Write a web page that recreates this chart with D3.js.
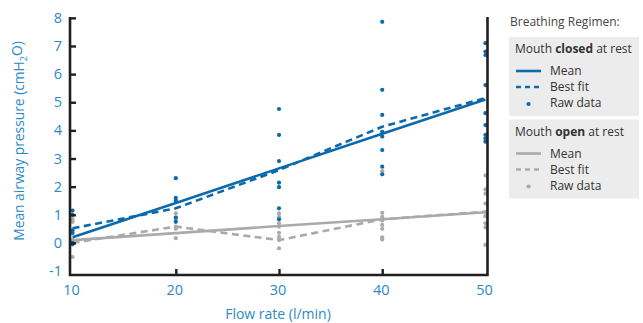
<!DOCTYPE html>
<html><head><meta charset="utf-8">
<script src="https://cdn.jsdelivr.net/npm/d3@7"></script>
<style>
body{margin:0;background:#fff;}
text{font-family:"Open Sans","Noto Sans",sans-serif;}
</style></head><body>
<svg id="c" width="643" height="323"></svg>
<script>
const flowRates = [10, 20, 30, 40, 50];
const yTicks = [-1, 0, 1, 2, 3, 4, 5, 6, 7, 8];
// Mouth closed at rest
const closedMean = [0.2, 1.42, 2.65, 3.88, 5.1];
const closedFit = [0.52, 1.23, 2.59, 4.13, 5.15];
const closedRaw = [
  [10, 1.15], [10, 1.0], [10, 0.45], [10, 0.35], [10, 0.0], [10, -0.05],
  [20, 2.3], [20, 1.6], [20, 1.5], [20, 0.9], [20, 0.75],
  [30, 4.76], [30, 3.84], [30, 2.91], [30, 2.14], [30, 1.98], [30, 1.23], [30, 0.84],
  [40, 7.86], [40, 5.44], [40, 4.55], [40, 3.95], [40, 3.78], [40, 3.3], [40, 2.71], [40, 2.44],
  [50, 7.1], [50, 6.8], [50, 6.68], [50, 5.61], [50, 4.61], [50, 4.19], [50, 3.84], [50, 3.72], [50, 3.6]
];
// Mouth open at rest
const openMean = [0.1, 0.35, 0.6, 0.84, 1.09];
const openFit = [0.0, 0.58, 0.1, 0.84, 1.11];
const openRaw = [
  [10, 0.85], [10, 0.75], [10, 0.1], [10, 0.05], [10, 0.0], [10, -0.5],
  [20, 1.05], [20, 0.9], [20, 0.8], [20, 0.58], [20, 0.5], [20, 0.17],
  [30, 1.05], [30, 0.93], [30, 0.7], [30, 0.58], [30, 0.36], [30, 0.22], [30, 0.1], [30, -0.19],
  [40, 2.55], [40, 1.07], [40, 0.93], [40, 0.8], [40, 0.64], [40, 0.5], [40, 0.2], [40, 0.12],
  [50, 2.4], [50, 1.9], [50, 1.75], [50, 1.4], [50, 1.1], [50, 0.95], [50, 0.7], [50, 0.55], [50, -0.07]
];

const BLUE = "#0b6aab", GRAY = "#aaaaaa", LBLUE = "#2b8ac6", AX = "#231f20";
const svg = d3.select("#c");
const x = d3.scaleLinear().domain([9.75, 50.2]).range([70, 487.5]);
const y = d3.scaleLinear().domain([-1.14, 8.03]).range([275, 17]);

function dots(data, color) {
  svg.append("g").selectAll("circle").data(data).join("circle")
    .attr("cx", d => x(d[0])).attr("cy", d => y(d[1])).attr("r", 2.1).attr("fill", color);
}
dots(openRaw, GRAY);
const line = d3.line().x((d, i) => x(flowRates[i])).y(d => y(d));
function path(vals, color, dashed) {
  svg.append("path").datum(vals).attr("d", line).attr("fill", "none")
    .attr("stroke", color).attr("stroke-width", 2.6)
    .attr("stroke-dasharray", dashed ? "7,4.5" : null);
}
path(openMean, GRAY, false);
path(openFit, GRAY, true);
dots(closedRaw, BLUE);
path(closedMean, BLUE, false);
path(closedFit, BLUE, true);

// axes (inward ticks; end ticks hidden at corners)
const yAxis = svg.append("g").attr("transform", "translate(70,0)")
  .call(d3.axisRight(y).tickValues(yTicks.filter(v => v > yTicks[0])).tickSize(6).tickFormat(""));
const xAxis = svg.append("g").attr("transform", "translate(0,275)")
  .call(d3.axisTop(x).tickValues(flowRates.slice(1, -1)).tickSize(6).tickFormat(""));
[yAxis, xAxis].forEach(g => {
  g.select(".domain").remove();
  g.selectAll("line").attr("stroke", AX).attr("stroke-width", 2.4);
});
svg.append("path").attr("d", `M70,${y.range()[1]}V275H487.5V${y.range()[1]}`)
  .attr("fill", "none").attr("stroke", AX).attr("stroke-width", 2.6);

// tick labels
svg.append("g").selectAll("text").data(yTicks).join("text")
  .attr("x", 62).attr("y", d => y(d)).attr("dy", "0.35em").attr("text-anchor", "end")
  .attr("fill", LBLUE).attr("font-size", 14.5).text(d => d);
svg.append("g").selectAll("text").data(flowRates).join("text")
  .attr("x", d => x(d) - 1).attr("y", 290).attr("dy", "0.35em").attr("text-anchor", "middle")
  .attr("fill", LBLUE).attr("font-size", 14.5).text(d => d);

// axis titles
svg.append("text").attr("x", 278).attr("y", 314).attr("dy", "0.35em").attr("text-anchor", "middle")
  .attr("fill", LBLUE).attr("font-size", 14).text("Flow rate (l/min)");
const yt = svg.append("text").attr("transform", "translate(19,141) rotate(-90)")
  .attr("dy", "0.35em").attr("text-anchor", "middle").attr("fill", LBLUE).attr("font-size", 13.8);
yt.append("tspan").text("Mean airway pressure (cmH");
yt.append("tspan").attr("font-size", 9).attr("dy", "0.3em").text("2");
yt.append("tspan").attr("dy", "-0.3em").text("O)");

// legend
svg.append("text").attr("x", 510).attr("y", 22).attr("dy", "0.35em").attr("fill", "#444")
  .attr("font-size", 12).text("Breathing Regimen:");
const groups = [
  {label: "closed", color: BLUE, top: 37, h: 79},
  {label: "open", color: GRAY, top: 119.5, h: 79}
];
groups.forEach(g => {
  const lg = svg.append("g").attr("transform", `translate(509,${g.top})`);
  lg.append("rect").attr("width", 130).attr("height", g.h).attr("fill", "#ececec");
  const t = lg.append("text").attr("x", 6).attr("y", 12).attr("dy", "0.35em")
    .attr("fill", "#333").attr("font-size", 12);
  t.append("tspan").text("Mouth ");
  t.append("tspan").attr("font-weight", "bold").text(g.label);
  t.append("tspan").text(" at rest");
  const rows = [{n: "Mean", dy: 34}, {n: "Best fit", dy: 50}, {n: "Raw data", dy: 66}];
  rows.forEach((r, i) => {
    if (i < 2) lg.append("line").attr("x1", 7).attr("x2", 32).attr("y1", r.dy).attr("y2", r.dy)
      .attr("stroke", g.color).attr("stroke-width", 2.6).attr("stroke-dasharray", i === 1 ? "5,4" : null);
    else lg.append("circle").attr("cx", 19.5).attr("cy", r.dy + 1).attr("r", 2.1).attr("fill", g.color);
    lg.append("text").attr("x", 41).attr("y", r.dy).attr("dy", "0.35em").attr("fill", "#333")
      .attr("font-size", 12).text(r.n);
  });
});
</script>
</body></html>
